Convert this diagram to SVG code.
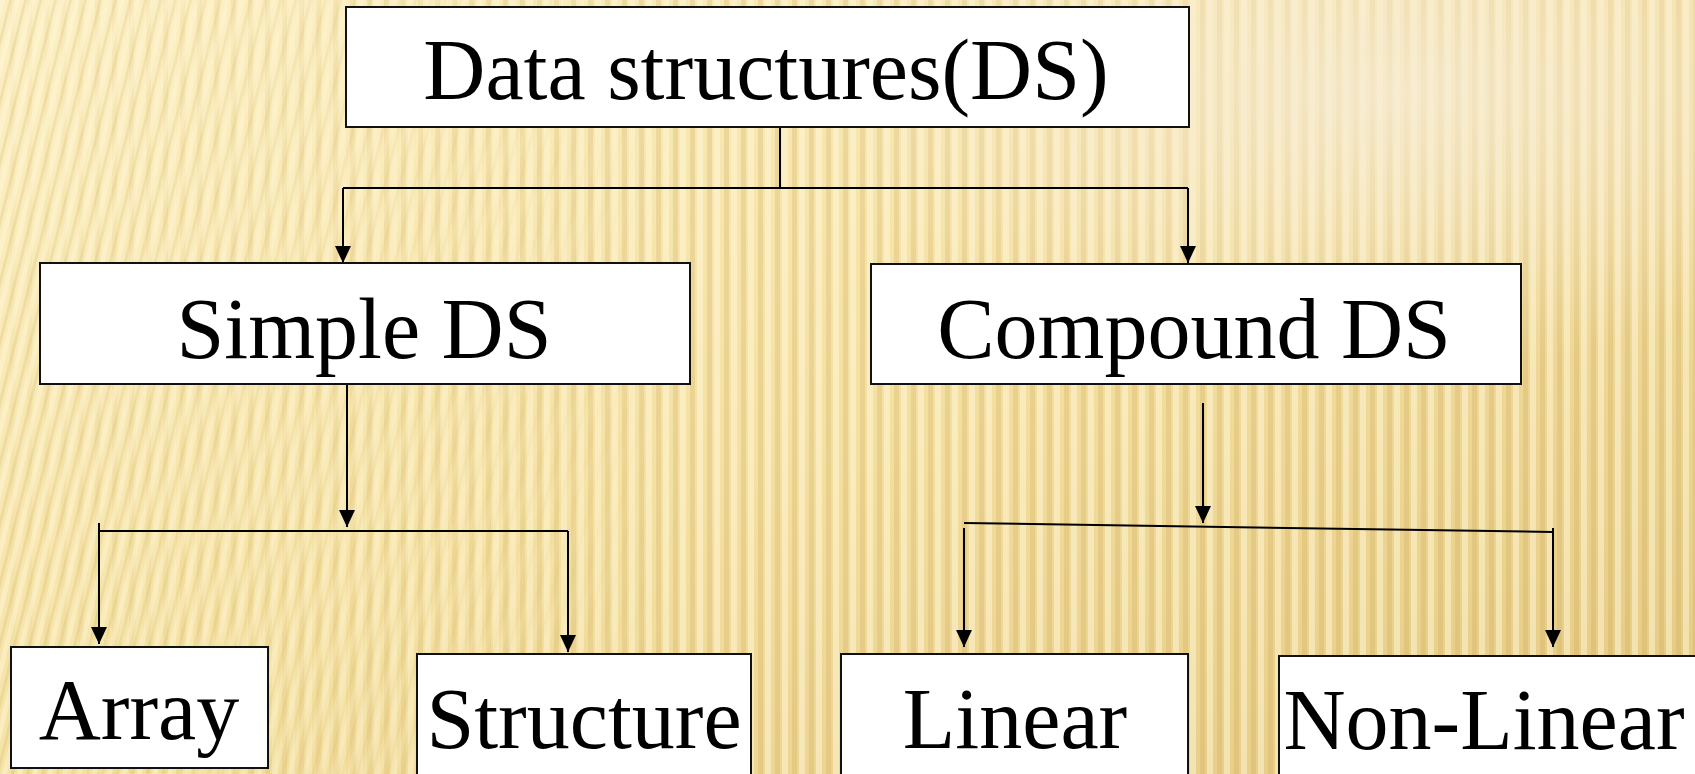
<svg xmlns="http://www.w3.org/2000/svg" width="1695" height="774" viewBox="0 0 1695 774">
<style>
.box{fill:#ffffff;stroke:#111;stroke-width:2}
.lbl{font-family:"Liberation Serif","Times New Roman",serif;font-size:86px;fill:#000;text-anchor:middle}
.con{fill:none;stroke:#000;stroke-width:2}
</style>
<defs>
<linearGradient id="bg" x1="0" y1="0" x2="1" y2="1">
<stop offset="0" stop-color="#fcefc2"/>
<stop offset="0.5" stop-color="#f5e1a2"/>
<stop offset="1" stop-color="#e4c87f"/>
</linearGradient>
<radialGradient id="glow" cx="0.82" cy="0.12" r="0.35">
<stop offset="0" stop-color="#f7ecd6" stop-opacity="0.8"/>
<stop offset="1" stop-color="#f7ecd6" stop-opacity="0"/>
</radialGradient>
<pattern id="stripes" width="17" height="20" patternUnits="userSpaceOnUse">
<rect x="0" y="0" width="6" height="20" fill="#fff8dc" opacity="0.5"/>
<rect x="10" y="0" width="5" height="20" fill="#c29f50" opacity="0.22"/>
</pattern>
<pattern id="stripesL" width="15" height="20" patternUnits="userSpaceOnUse" patternTransform="skewX(-14)">
<rect x="0" y="0" width="5" height="20" fill="#fff8dc" opacity="0.45"/>
<rect x="9" y="0" width="3" height="20" fill="#c29f50" opacity="0.18"/>
</pattern>
<linearGradient id="fadeL" x1="0" y1="0" x2="1" y2="0">
<stop offset="0" stop-color="#fff" stop-opacity="1"/>
<stop offset="1" stop-color="#fff" stop-opacity="0"/>
</linearGradient>
<mask id="mL"><rect x="0" y="0" width="700" height="774" fill="url(#fadeL)"/></mask>
<linearGradient id="fadeR" x1="0" y1="0" x2="1" y2="0">
<stop offset="0" stop-color="#fff" stop-opacity="0.2"/>
<stop offset="0.4" stop-color="#fff" stop-opacity="1"/>
</linearGradient>
<mask id="mR"><rect x="0" y="0" width="1695" height="774" fill="url(#fadeR)"/></mask>
<marker id="arr" markerWidth="20" markerHeight="18" refX="17" refY="8" orient="auto" markerUnits="userSpaceOnUse">
<path d="M0,0 L17,8 L0,16 Z" fill="#000"/>
</marker>
</defs>
<rect x="0" y="0" width="1695" height="774" fill="url(#bg)"/>
<rect x="0" y="0" width="1695" height="774" fill="url(#stripes)" mask="url(#mR)"/>
<rect x="0" y="0" width="700" height="774" fill="url(#stripesL)" mask="url(#mL)"/>
<rect x="0" y="0" width="1695" height="774" fill="url(#glow)"/>

<g id="connectors">
<path class="con" d="M780 127 V188 M343 188 H1188"/>
<path class="con" d="M343 188 V263" marker-end="url(#arr)"/>
<path class="con" d="M1188 188 V263" marker-end="url(#arr)"/>
<path class="con" d="M347 384 V527" marker-end="url(#arr)"/>
<path class="con" d="M99 531 H568"/>
<path class="con" d="M99 523 V644" marker-end="url(#arr)"/>
<path class="con" d="M568 531 V652" marker-end="url(#arr)"/>
<path class="con" d="M1203 403 V523" marker-end="url(#arr)"/>
<path class="con" d="M964 523 L1553 532"/>
<path class="con" d="M964 528 V647" marker-end="url(#arr)"/>
<path class="con" d="M1553 528 V647" marker-end="url(#arr)"/>
</g>

<g id="node-ds">
<rect class="box" x="346" y="7" width="843" height="120"/>
<text class="lbl" x="766" y="99">Data structures(DS)</text>
</g>
<g id="node-simple">
<rect class="box" x="40" y="263" width="650" height="121"/>
<text class="lbl" x="364" y="358">Simple DS</text>
</g>
<g id="node-compound">
<rect class="box" x="871" y="264" width="650" height="120"/>
<text class="lbl" x="1194" y="358">Compound DS</text>
</g>
<g id="node-array">
<rect class="box" x="11" y="647" width="257" height="121"/>
<text class="lbl" x="139" y="739">Array</text>
</g>
<g id="node-structure">
<rect class="box" x="417" y="654" width="334" height="130"/>
<text class="lbl" x="584" y="748">Structure</text>
</g>
<g id="node-linear">
<rect class="box" x="841" y="654" width="347" height="130"/>
<text class="lbl" x="1015" y="748">Linear</text>
</g>
<g id="node-nonlinear">
<rect class="box" x="1279" y="656" width="430" height="130"/>
<text class="lbl" x="1484" y="749">Non-Linear</text>
</g>
</svg>
